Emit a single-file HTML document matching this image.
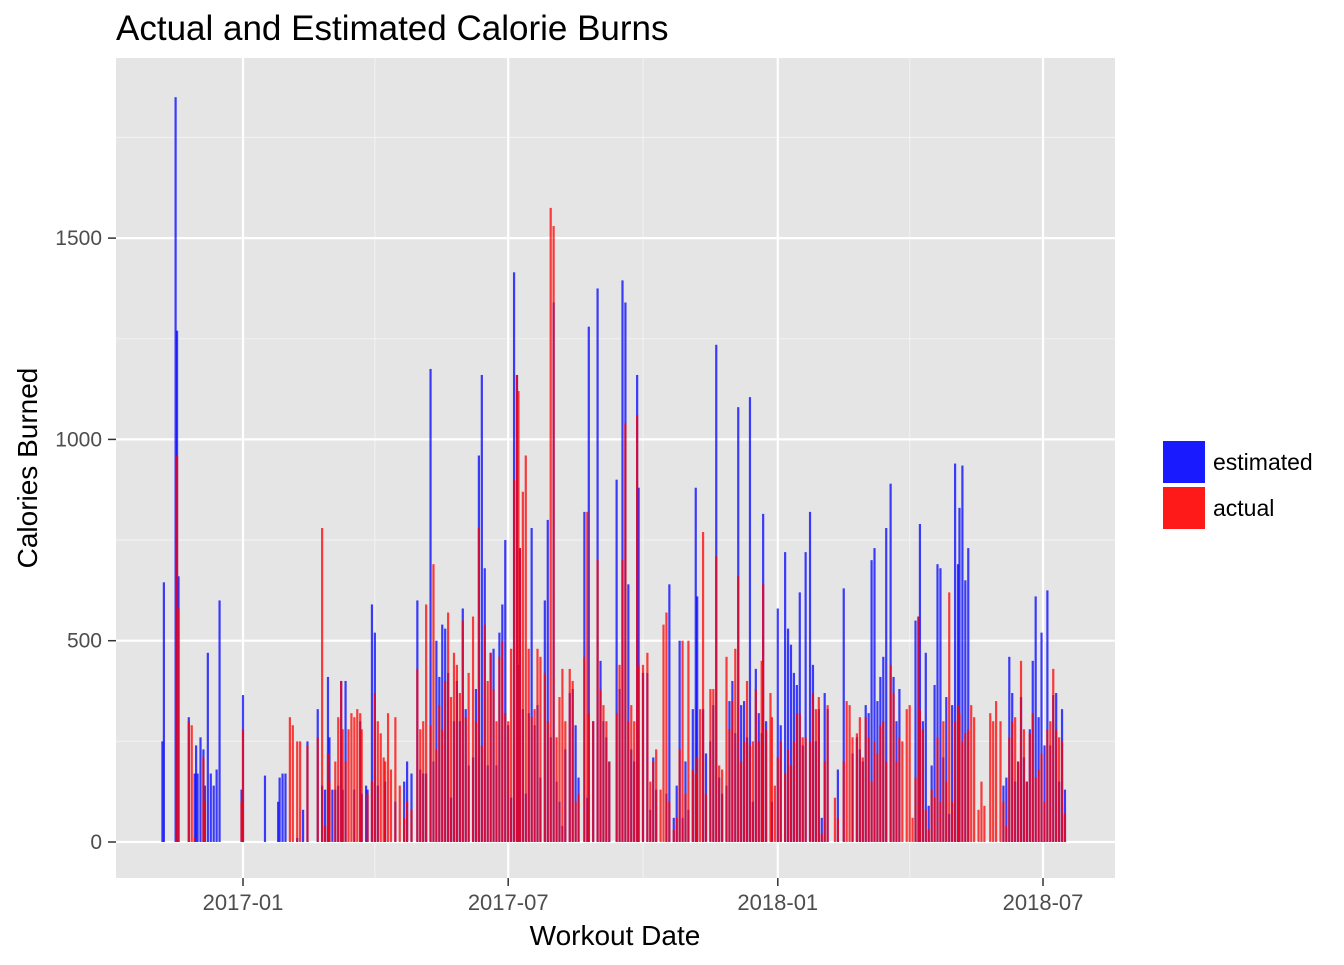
<!DOCTYPE html>
<html><head><meta charset="utf-8"><style>
html,body{margin:0;padding:0;background:#fff;}
svg text{font-family:"Liberation Sans",Arial,sans-serif;}
</style></head><body>
<svg id="chart" width="1344" height="960" viewBox="0 0 1344 960" xmlns="http://www.w3.org/2000/svg">
<rect x="0" y="0" width="1344" height="960" fill="#fff"/>
<rect x="116" y="58" width="999" height="820" fill="#e5e5e5"/>
<text x="116" y="40" font-size="35" fill="#000">Actual and Estimated Calorie Burns</text>
<g id="grid"></g>
<g id="bars-est"></g>
<g id="bars-act"></g>
<g id="axes"></g>
<text x="615" y="945" font-size="28" text-anchor="middle" fill="#000">Workout Date</text>
<text transform="translate(37,468) rotate(-90)" font-size="28" text-anchor="middle" fill="#000">Calories Burned</text>
<g>
<rect x="1163" y="441" width="42" height="42" fill="#1a1aff"/>
<text x="1213" y="470" font-size="23" fill="#000">estimated</text>
<rect x="1163" y="487" width="42" height="42" fill="#ff1a1a"/>
<text x="1213" y="516" font-size="23" fill="#000">actual</text>
</g>
</svg>
<script>
// days since 2017-01-01
const days = [-55,-54,-46,-45,-44,-37,-35,-33,-32,-31,-29,-27,-26,-24,-22,-20,-18,-16,-1,0,15,24,25,27,29,32,34,37,39,41,44,51,54,56,58,
59,61,63,65,67,68,70,72,74,76,78,80,81,84,85,88,90,92,94,96,97,99,101,104,107,110,112,115,119,121,123,125,128,130,132,134,136,138,140,142,144,146,148,150,152,154,157,159,161,163,165,167,169,171,173,175,177,179,181,183,185,187,188,189,191,193,195,197,199,201,203,206,208,210,212,214,216,218,220,223,225,227,229,233,235,236,239,242,244,246,248,250,255,257,259,261,263,265,267,269,270,273,276,278,280,282,285,287,289,291,294,296,298,300,302,304,307,309,310,312,314,316,319,321,323,325,327,330,332,334,336,338,340,342,344,346,348,350,352,354,355,357,360,361,363,365,367,370,372,374,376,378,380,382,384,387,389,391,393,395,397,399,404,406,410,412,414,416,419,421,423,425,427,429,431,433,435,437,439,442,444,446,448,450,453,455,457,459,461,462,464,466,468,470,472,474,476,478,480,482,484,486,488,489,491,493,495,497,499,502,504,506,510,512,514,517,519,521,523,525,527,529,531,533,535,537,539,541,543,545,547,549,551,553,555,557,559,561];
const estimated = [250,645,1850,1270,660,310,0,170,240,170,260,230,140,470,170,140,180,600,130,365,165,100,160,170,170,0,0,10,0,80,250,330,140,130,410,
260,130,130,140,400,130,400,0,0,130,0,300,120,140,130,590,520,140,0,0,150,0,0,100,0,150,200,170,600,180,170,170,1175,200,500,410,540,530,420,110,300,400,300,580,330,190,210,380,960,1160,680,190,470,480,190,520,590,750,290,110,1415,1160,440,730,330,120,320,780,290,340,160,600,800,260,1340,150,100,40,230,370,380,290,160,820,110,1280,300,1375,450,300,260,200,900,380,1395,1340,640,230,200,1160,880,420,420,80,210,130,0,0,120,640,60,140,500,60,200,80,330,880,610,0,330,220,250,340,1235,160,120,140,350,400,270,1080,340,350,260,1105,100,430,320,270,815,300,0,100,0,580,290,720,530,490,420,390,620,240,720,820,440,250,330,60,370,330,0,180,630,0,0,220,260,230,200,340,320,700,730,350,410,460,780,890,410,300,380,0,0,0,0,550,560,790,300,470,90,190,390,690,680,210,360,70,340,940,690,830,935,650,730,0,0,0,0,0,0,0,0,0,140,160,460,370,150,200,360,210,150,280,450,610,310,520,240,625,240,365,370,150,330,130];
const actual = [0,0,0,960,580,300,290,10,0,0,0,210,100,0,0,0,0,0,100,280,0,0,0,0,0,310,290,250,250,0,240,260,780,40,220,
150,0,200,310,400,280,200,280,320,310,330,320,280,0,120,150,370,300,270,210,200,320,180,310,140,60,100,80,430,280,300,590,290,690,230,340,280,400,570,360,470,440,370,550,310,420,560,300,780,240,540,400,470,380,300,460,500,320,300,480,900,1160,1120,730,870,960,480,310,330,480,460,420,300,1575,1530,260,360,430,300,430,400,100,120,460,820,320,300,700,380,340,300,200,320,440,700,1040,300,340,300,1060,440,440,470,150,200,230,130,540,570,100,30,60,230,500,120,500,180,170,210,330,770,120,380,380,710,190,180,460,280,350,480,660,200,250,400,240,250,380,250,450,640,280,370,310,140,210,250,170,230,190,250,320,320,260,260,250,370,330,360,20,200,340,110,60,200,350,340,260,270,310,210,310,260,150,250,220,290,300,200,440,370,200,260,250,330,340,60,160,560,330,280,80,30,130,110,260,100,300,150,620,100,300,340,320,250,270,280,340,310,80,150,90,320,300,350,300,100,40,260,300,310,200,450,280,150,270,320,160,180,220,100,280,300,430,280,260,250,70];
const yTicks = [0,500,1000,1500];
const yMinor = [250,750,1250,1750];
const xTickLabels = ["2017-01","2017-07","2018-01","2018-07"];
const xTickDays = [0,181,365,546];
const xMinorDays = [90,273,455];

const NS = "http://www.w3.org/2000/svg";
const x = d => 243 + d * (800 / 546);
const y = v => 842 - v * (201.3 / 500);
function mk(tag, attrs, parent) {
  const el = document.createElementNS(NS, tag);
  for (const k in attrs) el.setAttribute(k, attrs[k]);
  parent.appendChild(el);
  return el;
}
const grid = document.getElementById('grid');
yMinor.forEach(v => {
  const l = mk('line', {x1:116, x2:1115, y1:y(v), y2:y(v), stroke:'#f2f2f2', 'stroke-width':1.1}, grid);
  
  
});
xMinorDays.forEach(d => {
  const l = mk('line', {x1:x(d), x2:x(d), y1:58, y2:878, stroke:'#f2f2f2', 'stroke-width':1.1}, grid);
  
  
});
yTicks.forEach(v => {
  const l = mk('line', {x1:116, x2:1115, y1:y(v), y2:y(v), stroke:'#fff', 'stroke-width':2.2}, grid);
  
  
});
xTickDays.forEach(d => {
  const l = mk('line', {x1:x(d), x2:x(d), y1:58, y2:878, stroke:'#fff', 'stroke-width':2.2}, grid);
  
  
});
const be = document.getElementById('bars-est');
const ba = document.getElementById('bars-act');
const bw = 2.2;
days.forEach((d, i) => {
  if (estimated[i] > 0) {
    const r = mk('rect', {x:x(d)-bw/2, y:y(estimated[i]), width:bw, height:y(0)-y(estimated[i]), fill:'rgba(0,0,255,0.75)'}, be);
    
    
  }
});
days.forEach((d, i) => {
  if (actual[i] > 0) {
    const r = mk('rect', {x:x(d)-bw/2, y:y(actual[i]), width:bw, height:y(0)-y(actual[i]), fill:'rgba(255,0,0,0.75)'}, ba);
    
    
  }
});
const ax = document.getElementById('axes');
yTicks.forEach(v => {
  const t = mk('line', {x1:108, x2:116, y1:y(v), y2:y(v), stroke:'#333', 'stroke-width':1.5}, ax);
  
  
  const lb = mk('text', {x:102, y:y(v)+7, 'font-size':21, 'text-anchor':'end', fill:'#4d4d4d'}, ax);
  lb.textContent = v;
  
  
});
xTickDays.forEach((d, i) => {
  const t = mk('line', {x1:x(d), x2:x(d), y1:878, y2:886, stroke:'#333', 'stroke-width':1.5}, ax);
  
  
  const lb = mk('text', {x:x(d), y:910, 'font-size':22, 'text-anchor':'middle', fill:'#4d4d4d'}, ax);
  lb.textContent = xTickLabels[i];
  
  
});
</script>
</body></html>
